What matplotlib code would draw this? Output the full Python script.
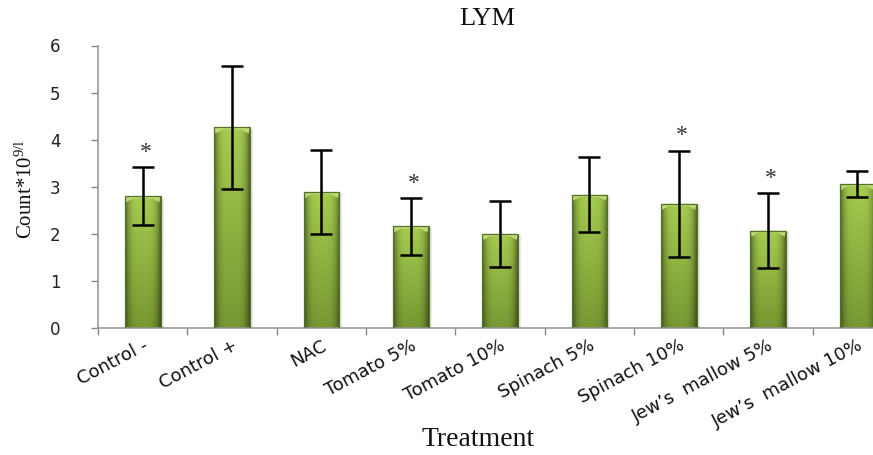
import numpy as np
import matplotlib
matplotlib.use("Agg")
import matplotlib.pyplot as plt
from matplotlib.patches import Polygon, Rectangle

plt.rcParams["mathtext.fontset"] = "custom"
plt.rcParams["mathtext.rm"] = "Liberation Serif"
plt.rcParams["mathtext.it"] = "Liberation Serif:italic"

# LYM counts by treatment group (mean and error)
categories = ["Control -", "Control +", "NAC", "Tomato 5%", "Tomato 10%",
              "Spinach 5%", "Spinach 10%", "Jew\u2019s  mallow 5%", "Jew\u2019s  mallow 10%"]
means = [2.80, 4.26, 2.89, 2.16, 2.00, 2.83, 2.64, 2.07, 3.06]
errors = [0.61, 1.31, 0.90, 0.60, 0.70, 0.80, 1.13, 0.80, 0.28]
significant = [True, False, False, True, False, False, True, True, False]
yticks = [0, 1, 2, 3, 4, 5, 6]

fig = plt.figure(figsize=(8.73, 4.55), dpi=100)
# the plot area runs a little past the right edge of the canvas
ax = fig.add_axes([0.1123, 0.279, 0.921, 0.621])

x = np.arange(len(categories))
width = 0.40

# faint drop shadow behind each bar
for xi, m in zip(x, means):
    ax.add_patch(Rectangle((xi - width / 2 + 0.025, 0), width + 0.01, m - 0.03,
                           facecolor="#000000", alpha=0.09, edgecolor="none", zorder=1))

bars = ax.bar(x, means, width=width, color="#93b84a", edgecolor="none", zorder=2)

# shaded fill: darker toward the sides and the base
nx, ny = 64, 64
u = np.linspace(-1, 1, nx)
v = np.linspace(0, 1, ny)[:, None]
side = 1 - 0.5 * np.abs(u) ** 4
top_col = np.array([166, 204, 80]) / 255
bot_col = np.array([120, 152, 50]) / 255
base = bot_col[None, None, :] * (1 - v[..., None]) + top_col[None, None, :] * v[..., None]
img = np.clip(base * side[None, :, None], 0, 1)

for b, m in zip(bars, means):
    x0 = b.get_x()
    x1 = x0 + b.get_width()
    im = ax.imshow(img, extent=[x0, x1, 0, m], origin="lower", aspect="auto",
                   zorder=2.5, interpolation="bilinear")
    im.set_clip_path(b)
    # light bevel at the top of the bar
    hl = Polygon([(x0, m), (x1, m), (x1 - 0.015, m - 0.13), (x1 - 0.09, m - 0.05),
                  ((x0 + x1) / 2, m - 0.04), (x0 + 0.09, m - 0.05), (x0 + 0.015, m - 0.13)],
                 closed=True, facecolor="#c4e07a", edgecolor="none", alpha=0.9, zorder=2.6)
    ax.add_patch(hl)
    ax.add_patch(Rectangle((x0, 0), width, m, facecolor="none", edgecolor="#56722a",
                           linewidth=0.9, zorder=2.7))

ax.errorbar(x, means, yerr=errors, fmt="none", ecolor="black", elinewidth=1.8,
            capsize=8, capthick=1.8, zorder=4)

for xi, m, e, s in zip(x, means, errors, significant):
    if s:
        ax.annotate("*", xy=(xi, m + e), xytext=(2, 3), textcoords="offset points",
                    ha="center", va="bottom", fontsize=17, color="#333333",
                    family="Liberation Serif", zorder=5)

ax.set_xlim(-0.5, len(categories) - 0.5)
ax.set_ylim(0, 6)
ax.set_yticks(yticks)
ax.set_yticklabels([str(t) for t in yticks], fontsize=12, family="DejaVu Sans",
                   color="#222222")

ax.set_xticks(x)
ax.set_xticklabels(categories, rotation=28, ha="right", rotation_mode="anchor",
                   fontsize=13, family="DejaVu Sans", color="#111111")
ax.set_xticks(np.arange(-0.5, len(categories), 1.0), minor=True)
ax.tick_params(axis="x", which="major", length=0, pad=6)
ax.tick_params(axis="x", which="minor", length=5, color="#888888", width=1)
ax.tick_params(axis="y", length=5, color="#888888", width=1, pad=22)

for side_name in ("top", "right"):
    ax.spines[side_name].set_visible(False)
for side_name in ("left", "bottom"):
    ax.spines[side_name].set_color("#999999")
    ax.spines[side_name].set_linewidth(1.2)

fig.text(0.558, 0.958, "LYM", ha="center", va="center", fontsize=19,
         family="Liberation Serif", color="#111111")
fig.text(0.03, 0.585, r"Count*10$^{\mathrm{9/l}}$", rotation=90, ha="center", va="center",
         fontsize=15, family="Liberation Serif", color="#111111")
fig.text(0.548, 0.006, "Treatment", ha="center", va="bottom", fontsize=20,
         family="Liberation Serif", color="#111111")

fig.savefig("out.png", dpi=100)
